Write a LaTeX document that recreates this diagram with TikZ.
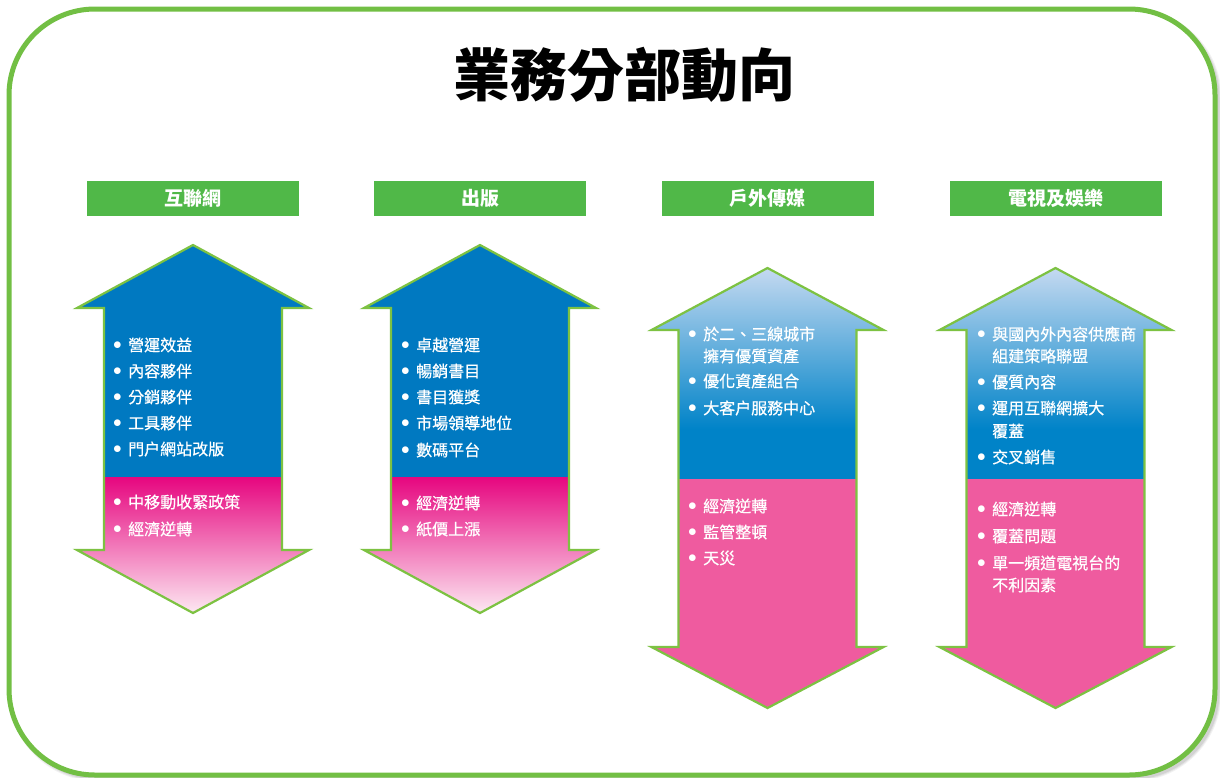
\documentclass[tikz,border=0pt]{standalone}
\usepackage{fontspec}
\setmainfont{Noto Sans CJK TC}
\newfontfamily\itemfont[FakeBold=0.6]{Noto Sans CJK TC}
\definecolor{frameg}{HTML}{72BF44}
\definecolor{hdrg}{HTML}{50B848}
\definecolor{arrg}{HTML}{7DC242}
\definecolor{blueA}{HTML}{0079C1}
\definecolor{blueB}{HTML}{0083C8}
\definecolor{lblue}{HTML}{C6DAF1}
\definecolor{magA}{HTML}{E6067F}
\definecolor{pinkL}{HTML}{FDEAF3}
\definecolor{pinkB}{HTML}{EF5B9F}
\newcommand\bul{\makebox[0pt][r]{\raisebox{1.6pt}{\fontsize{17}{17}\selectfont$\bullet$}\hspace{6.5pt}}}
% #1 cx, #2 top tip, #3 top shoulder, #4 division, #5 bottom shoulder, #6 bottom tip
\newcommand\arrowA[6]{%
  \begin{scope}
    \clip (#1,#2) -- (#1+116,#3) -- (#1+89,#3) -- (#1+89,#5) -- (#1+116,#5) -- (#1,#6)
      -- (#1-116,#5) -- (#1-89,#5) -- (#1-89,#3) -- (#1-116,#3) -- cycle;
    \fill[blueA] (#1-120,#2-2) rectangle (#1+120,#4);
    \shade[top color=magA, bottom color=pinkL] (#1-120,#4) rectangle (#1+120,#6+1);
  \end{scope}
  \draw[outl] (#1,#2) -- (#1+116,#3) -- (#1+89,#3) -- (#1+89,#5) -- (#1+116,#5) -- (#1,#6)
      -- (#1-116,#5) -- (#1-89,#5) -- (#1-89,#3) -- (#1-116,#3) -- cycle;
}
\newcommand\arrowB[6]{%
  \begin{scope}
    \clip (#1,#2) -- (#1+116,#3) -- (#1+89,#3) -- (#1+89,#5) -- (#1+116,#5) -- (#1,#6)
      -- (#1-116,#5) -- (#1-89,#5) -- (#1-89,#3) -- (#1-116,#3) -- cycle;
    \shade[top color=lblue, bottom color=blueB] (#1-120,#2-1) rectangle (#1+120,#4-50);
    \fill[blueB] (#1-120,#4-50.5) rectangle (#1+120,#4);
    \fill[pinkB] (#1-120,#4) rectangle (#1+120,#6+1);
  \end{scope}
  \draw[outl] (#1,#2) -- (#1+116,#3) -- (#1+89,#3) -- (#1+89,#5) -- (#1+116,#5) -- (#1,#6)
      -- (#1-116,#5) -- (#1-89,#5) -- (#1-89,#3) -- (#1-116,#3) -- cycle;
}
\tikzset{
  hdr/.style={fill=hdrg, minimum width=212pt, minimum height=35pt, inner sep=0pt,
    text=white, font=\fontsize{19}{19}\selectfont\bfseries},
  itm/.style={anchor=west, inner sep=0pt, text=white, font=\fontsize{16}{20}\selectfont\itemfont},
  outl/.style={draw=arrg, line width=2.2pt, line join=miter},
}
\begin{document}
\begin{tikzpicture}[x=1pt,y=-1pt]
\useasboundingbox (0,0) rectangle (1220,777);
\fill[white] (0,0) rectangle (1220,777);
% soft shadow of the frame
\foreach \s/\o in {7/0.05,5/0.06,3/0.07}
  \draw[black, opacity=\o, line width=\s pt, rounded corners=86pt] (12,12) rectangle (1218,778);
% frame
\fill[white, rounded corners=86pt] (9,9) rectangle (1215,775);
\draw[frameg, line width=5pt, rounded corners=86pt] (9,9) rectangle (1215,775);
% title
\node[font=\fontsize{57}{57}\selectfont\bfseries, inner sep=0pt] (title) at (624,75) {業務分部動向};
% arrows
\arrowA{193}{245}{308}{477}{550}{613}
\arrowA{480}{245}{308}{477}{550}{613}
\arrowB{767.5}{268}{330}{479}{647}{708}
\arrowB{1055.5}{268}{330}{479}{647}{708}
% headers
\node[hdr] (h1) at (193,198.5) {互聯網};
\node[hdr] (h2) at (480,198.5) {出版};
\node[hdr] (h3) at (767.5,198.5) {戶外傳媒};
\node[hdr] (h4) at (1055.5,198.5) {電視及娛樂};
% arrow 1
\node[itm] (a1) at (128,345) {\bul 營運效益};
\node[itm] (a2) at (128,371) {\bul 內容夥伴};
\node[itm] (a3) at (128,397) {\bul 分銷夥伴};
\node[itm] (a4) at (128,423) {\bul 工具夥伴};
\node[itm] (a5) at (128,449) {\bul 門户網站改版};
\node[itm] (a6) at (128,502) {\bul 中移動收緊政策};
\node[itm] (a7) at (128,529) {\bul 經濟逆轉};
% arrow 2
\node[itm] (b1) at (416,345) {\bul 卓越營運};
\node[itm] (b2) at (416,371) {\bul 暢銷書目};
\node[itm] (b3) at (416,397) {\bul 書目獲獎};
\node[itm] (b4) at (416,423) {\bul 市場領導地位};
\node[itm] (b5) at (416,450) {\bul 數碼平台};
\node[itm] (b6) at (416,503) {\bul 經濟逆轉};
\node[itm] (b7) at (416,529) {\bul 紙價上漲};
% arrow 3
\node[itm] (c1) at (703,334) {\bul 於二、三線城市};
\node[itm] (c1b) at (703,356) {擁有優質資產};
\node[itm] (c2) at (703,381) {\bul 優化資產組合};
\node[itm] (c3) at (703,408) {\bul 大客户服務中心};
\node[itm] (c4) at (703,506) {\bul 經濟逆轉};
\node[itm] (c5) at (703,532) {\bul 監管整頓};
\node[itm] (c6) at (703,558) {\bul 天災};
% arrow 4
\node[itm] (d1) at (992,334) {\bul 與國內外內容供應商};
\node[itm] (d1b) at (992,356) {組建策略聯盟};
\node[itm] (d2) at (992,382) {\bul 優質內容};
\node[itm] (d3) at (992,408) {\bul 運用互聯網擴大};
\node[itm] (d3b) at (992,431) {覆蓋};
\node[itm] (d4) at (992,457) {\bul 交叉銷售};
\node[itm] (d5) at (992,509) {\bul 經濟逆轉};
\node[itm] (d6) at (992,536) {\bul 覆蓋問題};
\node[itm] (d7) at (992,563) {\bul 單一頻道電視台的};
\node[itm] (d7b) at (992,585) {不利因素};
\end{tikzpicture}
\end{document}
